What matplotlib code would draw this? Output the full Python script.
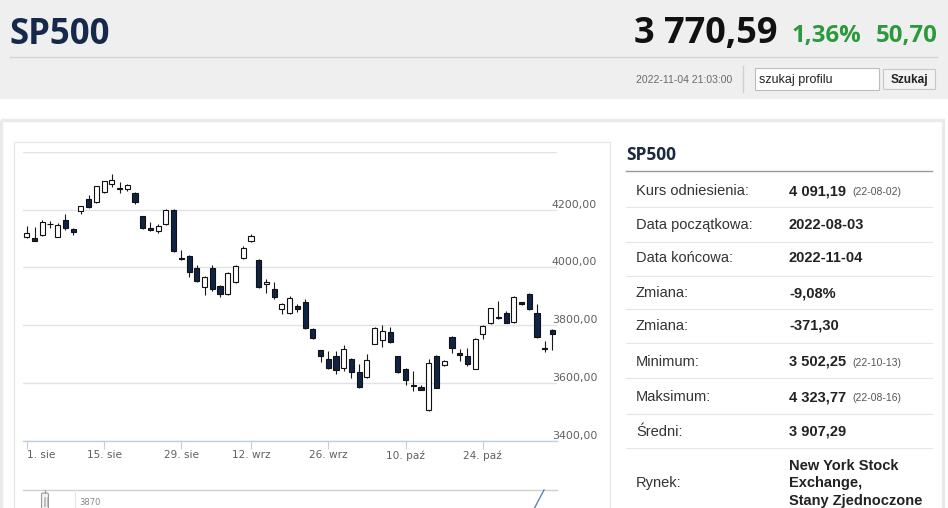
import matplotlib
matplotlib.use('Agg')
import matplotlib.pyplot as plt
from matplotlib.patches import Rectangle, FancyBboxPatch

# --- data ---
dates = ['2022-08-01', '2022-08-02', '2022-08-03', '2022-08-04', '2022-08-05',
         '2022-08-08', '2022-08-09', '2022-08-10', '2022-08-11', '2022-08-12',
         '2022-08-15', '2022-08-16', '2022-08-17', '2022-08-18', '2022-08-19',
         '2022-08-22', '2022-08-23', '2022-08-24', '2022-08-25', '2022-08-26',
         '2022-08-29', '2022-08-30', '2022-08-31', '2022-09-01', '2022-09-02',
         '2022-09-06', '2022-09-07', '2022-09-08', '2022-09-09', '2022-09-12',
         '2022-09-13', '2022-09-14', '2022-09-15', '2022-09-16', '2022-09-19',
         '2022-09-20', '2022-09-21', '2022-09-22', '2022-09-23', '2022-09-26',
         '2022-09-27', '2022-09-28', '2022-09-29', '2022-09-30', '2022-10-03',
         '2022-10-04', '2022-10-05', '2022-10-06', '2022-10-07', '2022-10-10',
         '2022-10-11', '2022-10-12', '2022-10-13', '2022-10-14', '2022-10-17',
         '2022-10-18', '2022-10-19', '2022-10-20', '2022-10-21', '2022-10-24',
         '2022-10-25', '2022-10-26', '2022-10-27', '2022-10-28', '2022-10-31',
         '2022-11-01', '2022-11-02', '2022-11-03', '2022-11-04']

opens = [4105, 4102, 4111, 4151, 4107, 4163, 4133, 4194, 4238, 4227,
         4260, 4290, 4275, 4273, 4258, 4177, 4136, 4125, 4151, 4200,
         4032, 4040, 3998, 3932, 3999, 3936, 3907, 3950, 4034, 4091,
         4026, 3944, 3925, 3855, 3841, 3867, 3879, 3786, 3713, 3682,
         3693, 3653, 3683, 3638, 3620, 3736, 3748, 3775, 3693, 3649,
         3593, 3585, 3505, 3693, 3661, 3760, 3704, 3693, 3649, 3768,
         3806, 3825, 3844, 3811, 3879, 3908, 3841, 3720, 3783]
highs = [4142, 4140, 4163, 4161, 4154, 4186, 4136, 4212, 4250, 4281,
         4301, 4324, 4297, 4290, 4260, 4180, 4159, 4150, 4203, 4203,
         4061, 4044, 4008, 3970, 4009, 3940, 3985, 4008, 4076, 4115,
         4028, 3960, 3950, 3876, 3900, 3875, 3891, 3790, 3715, 3709,
         3709, 3733, 3685, 3667, 3699, 3793, 3800, 3794, 3694, 3651,
         3640, 3594, 3682, 3696, 3679, 3762, 3719, 3721, 3755, 3800,
         3860, 3885, 3848, 3902, 3882, 3912, 3873, 3747, 3786]
lows = [4103, 4090, 4110, 4138, 4106, 4129, 4113, 4184, 4207, 4225,
        4258, 4280, 4258, 4265, 4219, 4133, 4128, 4120, 4148, 4055,
        4026, 3968, 3950, 3904, 3918, 3897, 3905, 3945, 4030, 4088,
        3928, 3912, 3890, 3840, 3838, 3846, 3788, 3752, 3674, 3650,
        3632, 3643, 3616, 3584, 3618, 3734, 3725, 3740, 3636, 3594,
        3573, 3574, 3502, 3582, 3659, 3703, 3675, 3660, 3647, 3753,
        3804, 3823, 3806, 3809, 3869, 3853, 3756, 3707, 3713]
closes = [4119, 4092, 4156, 4149, 4148, 4136, 4123, 4212, 4208, 4281,
          4301, 4304, 4273, 4285, 4227, 4136, 4131, 4142, 4200, 4057,
          4029, 3985, 3953, 3967, 3924, 3907, 3981, 4005, 4068, 4110,
          3932, 3950, 3898, 3873, 3896, 3856, 3789, 3757, 3693, 3653,
          3646, 3716, 3639, 3585, 3678, 3792, 3780, 3742, 3638, 3609,
          3590, 3576, 3670, 3583, 3676, 3721, 3696, 3664, 3752, 3798,
          3858, 3828, 3808, 3899, 3873, 3856, 3758, 3718, 3771]

tick_dates = ['2022-08-01', '2022-08-15', '2022-08-29', '2022-09-12',
              '2022-09-26', '2022-10-10', '2022-10-24']
tick_labels = ['1. sie', '15. sie', '29. sie', '12. wrz', '26. wrz', '10. paź', '24. paź']
y_ticks = [3400, 3600, 3800, 4000, 4200, 4400]

info_labels = ['Kurs odniesienia:', 'Data początkowa:', 'Data końcowa:', 'Zmiana:',
               'Zmiana:', 'Minimum:', 'Maksimum:', 'Średni:', 'Rynek:']
info_values = ['4 091,19', '2022-08-03', '2022-11-04', '-9,08%', '-371,30',
               '3 502,25', '4 323,77', '3 907,29',
               'New York Stock\nExchange,\nStany Zjednoczone']
info_notes = ['(22-08-02)', '', '', '', '', '(22-10-13)', '(22-08-16)', '', '']

# --- page ---
W, H = 948, 508
fig = plt.figure(figsize=(W / 100, H / 100), dpi=100)
fig.patch.set_facecolor('white')
bg = fig.add_axes([0, 0, 1, 1])
bg.set_xlim(0, W)
bg.set_ylim(H, 0)
bg.axis('off')

navy = '#0f2444'
green = '#2a9a3c'
sans = ['Liberation Sans', 'DejaVu Sans']
opensans = ['Open Sans', 'DejaVu Sans']

# header band
bg.add_patch(Rectangle((0, 0), W, 99, color='#efefef', lw=0))
bg.plot([10, 937], [57, 57], color='#d4d4d4', lw=1)
bg.text(9, 44, 'SP500', fontsize=25, fontweight='bold', color='#16294a',
        family=opensans, va='baseline')
bg.text(634, 43.5, '3 770,59', fontsize=26, fontweight='bold', color='#111111',
        family=opensans, va='baseline')
bg.text(792, 42, '1,36%', fontsize=17.3, fontweight='bold', color=green,
        family=opensans, va='baseline')
bg.text(876, 42, '50,70', fontsize=17.3, fontweight='bold', color=green,
        family=opensans, va='baseline')
bg.text(636, 80, '2022-11-04 21:03:00', fontsize=7.5, color='#6a6a6a',
        family=sans, va='center')
bg.plot([743, 743], [66, 92], color='#d0d0d0', lw=1)
bg.add_patch(Rectangle((755, 68), 124, 22, facecolor='white', edgecolor='#bdbdbd', lw=0.8))
bg.text(759, 79.5, 'szukaj profilu', fontsize=9, color='#222222', family=sans, va='center')
bg.add_patch(Rectangle((883, 69), 52, 20, facecolor='#f3f3f3', edgecolor='#c8c8c8', lw=0.8))
bg.text(909, 79.5, 'Szukaj', fontsize=8.5, fontweight='bold', color='#222222',
        family=sans, va='center', ha='center')

# content frames
bg.add_patch(Rectangle((1.5, 120), 942, 400, facecolor='none', edgecolor='#eaeaea', lw=2.5))
bg.add_patch(Rectangle((14, 141.5), 596, 380, facecolor='none', edgecolor='#e6e6e6', lw=0.8))

# info panel
bg.text(626, 155, 'SP500', fontsize=12.5, fontweight='bold', color='#1b2a40',
        family=opensans, va='center')
bg.plot([626, 932], [171, 171], color='#9a9a9a', lw=1)
row_y = [191, 225, 258, 293, 325.5, 361.5, 397, 431.5, 483]
sep_y = [207, 241.5, 275.5, 309, 343.3, 378.3, 414.3, 448.3]
for y in sep_y:
    bg.plot([626, 932], [y, y], color='#e6e6e6', lw=0.8)
for lab, val, note, y in zip(info_labels, info_values, info_notes, row_y):
    bg.text(636, y, lab, fontsize=10.5, color='#333333', family=sans, va='center')
    lines = val.split('\n')
    for k, line in enumerate(lines):
        ly = y + (k - (len(lines) - 1) / 2) * 17.5
        bg.text(789, ly, line, fontsize=10.5, fontweight='bold', color='#222222',
                family=sans, va='center')
    if note:
        bg.text(852, y + 1, note, fontsize=7.5, color='#555555', family=sans, va='center')

# navigator remnants at the bottom
bg.plot([23, 557], [489.5, 489.5], color='#cfcfcf', lw=1)
bg.plot([45, 45], [489.5, 493], color='#999999', lw=0.8)
bg.add_patch(FancyBboxPatch((41.5, 493), 7, 16, boxstyle='round,pad=0,rounding_size=1.5',
                            facecolor='#f2f2f2', edgecolor='#999999', lw=0.8))
for xx in (44, 45.5, 47):
    bg.plot([xx, xx], [497, 506], color='#aaaaaa', lw=0.5)
bg.plot([75, 75], [490, 508], color='#e6e6e6', lw=0.8)
bg.text(79, 507, '3870', fontsize=6, color='#888888', family=['DejaVu Sans'], va='bottom')
bg.plot([534, 544], [509, 490], color='#5b84bf', lw=1)

# --- candlestick chart ---
left, right, top, bottom = 23, 557, 152, 440.7
ax = fig.add_axes([left / W, 1 - bottom / H, (right - left) / W, (bottom - top) / H])
ax.set_facecolor('none')
step = 7.73
x0 = 26.8
ax.set_xlim((left - x0) / step, (right - x0) / step)
ax.set_ylim(3400, 4400)

xs = list(range(len(dates)))
ax.vlines(xs, lows, highs, color='#1a1a1a', lw=0.8, zorder=2)
for i in xs:
    o, c = opens[i], closes[i]
    h = abs(c - o)
    if h < 3:
        h = 3
    face = 'white' if c >= o else navy
    ax.bar(i, h, bottom=min(o, c), width=0.66, facecolor=face,
           edgecolor='#111111', lw=0.8, zorder=3)

ax.set_yticks(y_ticks, labels=[f'{v:.2f}'.replace('.', ',') if v < 4400 else '' for v in y_ticks])
ax.yaxis.tick_right()
ax.tick_params(axis='y', length=0, pad=-3.8, labelsize=7.9, labelcolor='#606060')
for lab in ax.get_yticklabels():
    lab.set_verticalalignment('bottom')
    lab.set_horizontalalignment('left')
ax.grid(axis='y', color='#e3e3e3', lw=1)
ax.set_axisbelow(True)

tick_idx = [dates.index(d) for d in tick_dates]
ax.set_xticks(tick_idx, labels=tick_labels)
ax.tick_params(axis='x', direction='out', length=5.5, width=0.8, color='#c0d0e0',
               labelsize=7.6, labelcolor='#606060', pad=1.5)
ax.get_xticklabels()[0].set_horizontalalignment('left')
for name in ('top', 'left', 'right'):
    ax.spines[name].set_visible(False)
ax.spines['bottom'].set_color('#c0d0e0')
ax.spines['bottom'].set_linewidth(1)

fig.savefig('out.png', dpi=100)
